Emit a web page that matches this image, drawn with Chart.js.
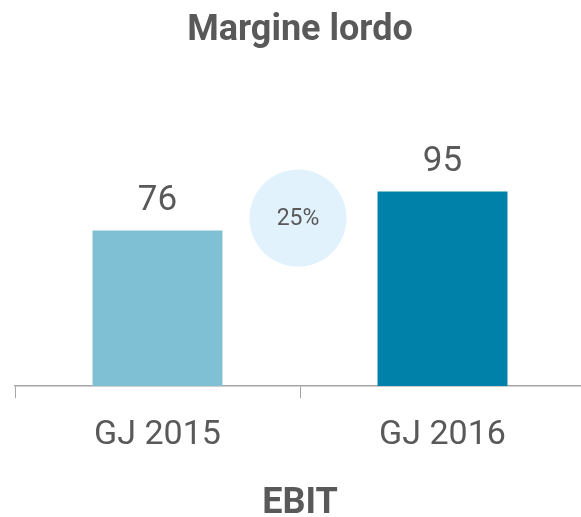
<!DOCTYPE html>
<html>
<head>
<meta charset="utf-8">
<script src="https://cdn.jsdelivr.net/npm/chart.js@4/dist/chart.umd.min.js"></script>
<style>
  html, body { margin: 0; padding: 0; background: #fff; overflow: hidden; }
  #wrap { width: 585px; height: 517px; position: relative; }
</style>
</head>
<body>
<div id="wrap"><canvas id="c"></canvas></div>
<script>
const chartTitle = 'Margine lordo';
const axisTitle = 'EBIT';
const categories = ['GJ 2015', 'GJ 2016'];
const values = [76, 95];
const barColors = ['#80C0D4', '#0081AA'];
const bubbleValue = 82; // vertical position of growth bubble (data units)

const growth = Math.round((values[1] - values[0]) / values[0] * 100) + '%';
const textColor = '#595959';
const fontFamily = 'Roboto, "Open Sans", sans-serif';

const overlayPlugin = {
  id: 'overlay',
  afterDatasetsDraw(chart) {
    const ctx = chart.ctx;
    const meta = chart.getDatasetMeta(0);
    const xs = chart.scales.x, ys = chart.scales.y;
    ctx.save();
    // growth bubble
    const cx = (xs.getPixelForValue(0) + xs.getPixelForValue(1)) / 2 - 2;
    const cy = ys.getPixelForValue(bubbleValue);
    ctx.beginPath();
    ctx.arc(cx, cy, 48.5, 0, Math.PI * 2);
    ctx.fillStyle = '#E2F2FD';
    ctx.fill();
    ctx.fillStyle = textColor;
    ctx.font = '23px ' + fontFamily;
    ctx.textAlign = 'center';
    ctx.textBaseline = 'middle';
    ctx.fillText(growth, cx, cy + 1);
    // value labels
    ctx.font = '35px ' + fontFamily;
    ctx.textBaseline = 'alphabetic';
    meta.data.forEach((bar, i) => {
      ctx.fillText(String(values[i]), bar.x, bar.y - 20);
    });
    ctx.restore();
  }
};

new Chart(document.getElementById('c'), {
  type: 'bar',
  data: {
    labels: categories,
    datasets: [{
      data: values,
      backgroundColor: barColors,
      borderWidth: 0,
      barPercentage: 0.912,
      categoryPercentage: 0.5
    }]
  },
  options: {
    responsive: true,
    maintainAspectRatio: false,
    animation: false,
    layout: { padding: { left: 15, right: 0, top: 0, bottom: -5 } },
    plugins: {
      legend: { display: false },
      tooltip: { enabled: false },
      title: {
        display: true,
        text: chartTitle,
        color: textColor,
        font: { family: fontFamily, size: 36, weight: 'bold', lineHeight: 1.2 },
        padding: { top: 9, bottom: 88 }
      }
    },
    scales: {
      x: {
        grid: { display: true, drawOnChartArea: false, drawTicks: true, tickLength: 12, color: '#A6A6A6', offset: true },
        border: { display: true, color: '#A6A6A6', width: 1.5 },
        ticks: { color: textColor, padding: 17, font: { family: fontFamily, size: 34, lineHeight: 1.2 } },
        title: {
          display: true,
          text: axisTitle,
          color: textColor,
          font: { family: fontFamily, size: 36, weight: 'bold', lineHeight: 1 },
          padding: { top: 13, bottom: 0 }
        }
      },
      y: {
        display: false,
        min: 0,
        max: 120
      }
    }
  },
  plugins: [overlayPlugin]
});
</script>
</body>
</html>
